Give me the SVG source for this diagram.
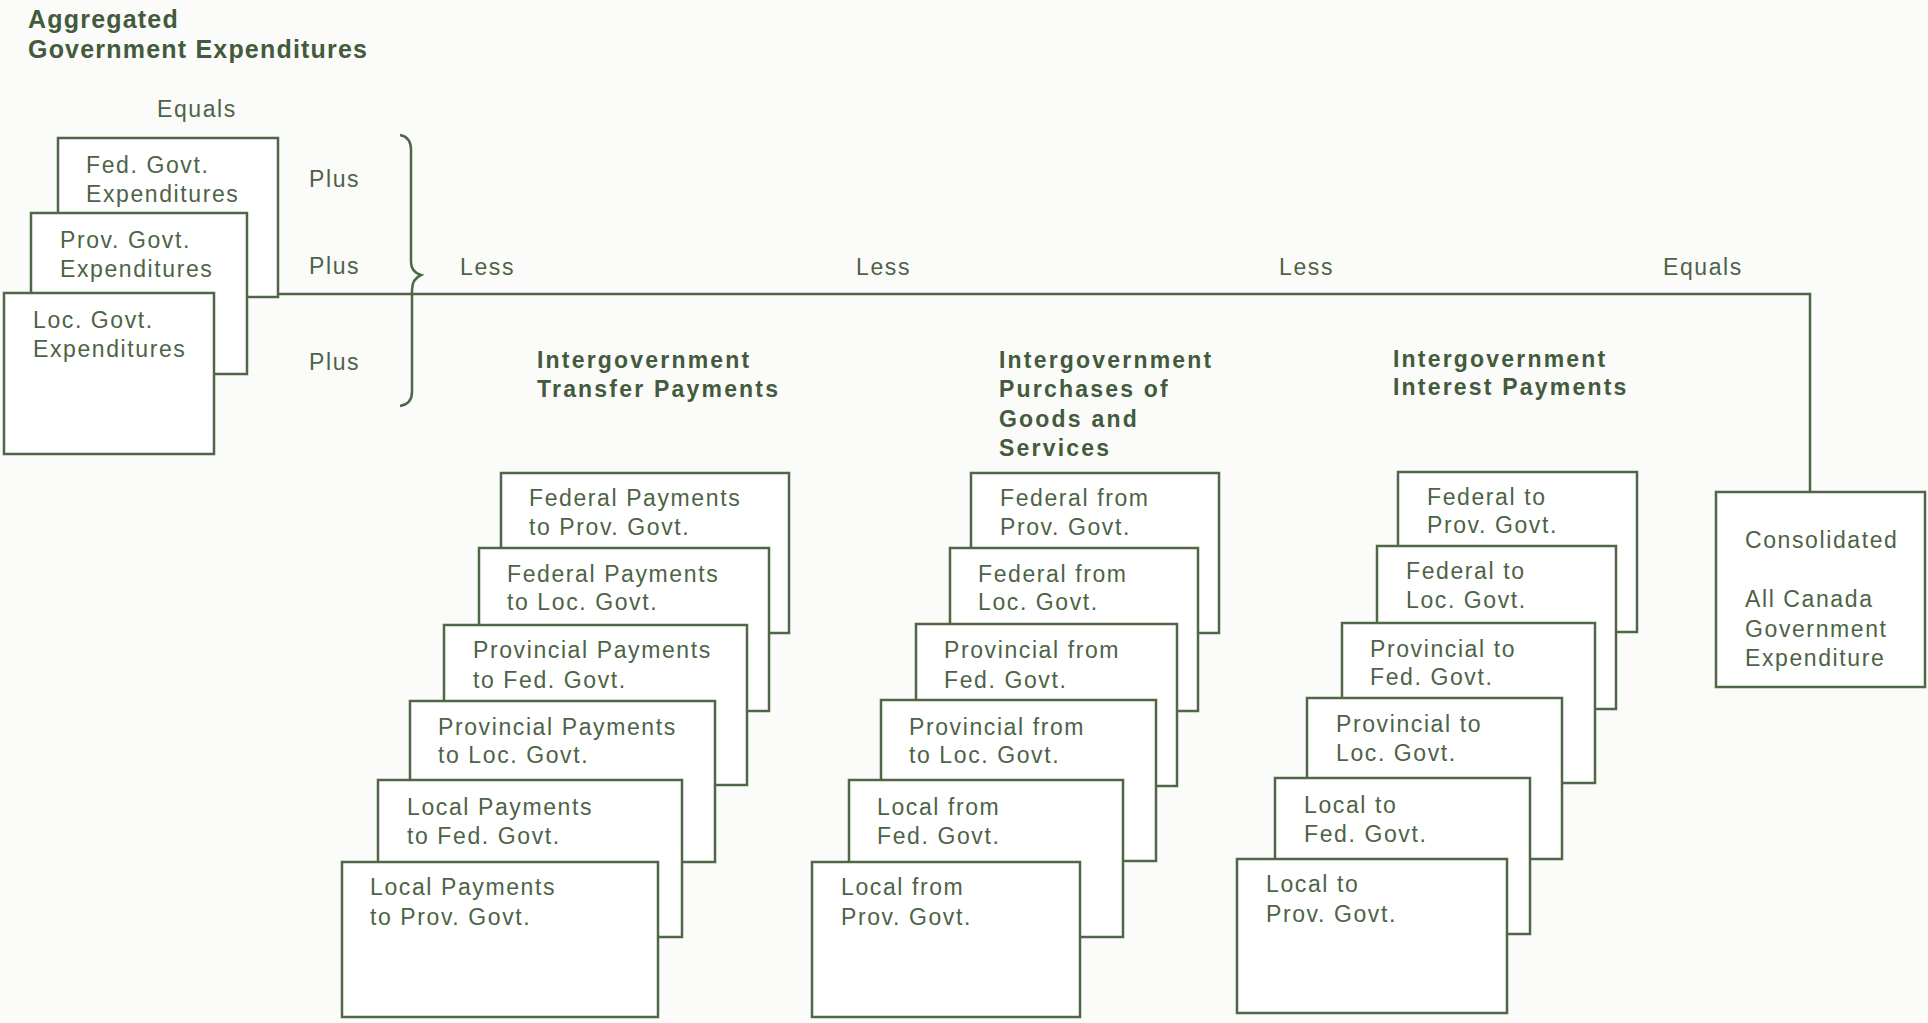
<svg xmlns="http://www.w3.org/2000/svg" width="1928" height="1023" viewBox="0 0 1928 1023">
<style>
.bg{fill:#fbfbf9}
.box{fill:#ffffff;stroke:#4f6647;stroke-width:2.5}
.ln{fill:none;stroke:#4f6647;stroke-width:2.5}
.t{font-family:"Liberation Sans",Arial,sans-serif;font-size:23px;letter-spacing:1.6px;fill:#4d6346}
.h{font-family:"Liberation Sans",Arial,sans-serif;font-size:23px;font-weight:bold;letter-spacing:2.2px;fill:#435a3c}
.title{font-family:"Liberation Sans",Arial,sans-serif;font-size:25px;font-weight:bold;letter-spacing:1.2px;fill:#435a3c}
</style>
<rect class="bg" x="0" y="0" width="1928" height="1023"/>

<text class="title" x="28" y="28">Aggregated</text>
<text class="title" x="28" y="58">Government Expenditures</text>

<g id="connectors">
<path class="ln" d="M278 294 H1810 V492"/>
<path class="ln" d="M400 135 Q411 137 411 150 V262 Q411 272 421 275 Q412 279 412 290 V392 Q412 404 400 406"/>
</g>

<g id="labels">
<text class="t" x="157" y="117">Equals</text>
<text class="t" x="309" y="187">Plus</text>
<text class="t" x="309" y="274">Plus</text>
<text class="t" x="309" y="370">Plus</text>
<text class="t" x="460" y="275">Less</text>
<text class="t" x="856" y="275">Less</text>
<text class="t" x="1279" y="275">Less</text>
<text class="t" x="1663" y="275">Equals</text>
</g>

<g id="fed-govt">
<rect class="box" x="58" y="138" width="220" height="159"/>
<text class="t" x="86" y="173">Fed. Govt.</text>
<text class="t" x="86" y="202">Expenditures</text>
</g>
<g id="prov-govt">
<rect class="box" x="31" y="213" width="216" height="161"/>
<text class="t" x="60" y="248">Prov. Govt.</text>
<text class="t" x="60" y="277">Expenditures</text>
</g>
<g id="loc-govt">
<rect class="box" x="4" y="293" width="210" height="161"/>
<text class="t" x="33" y="328">Loc. Govt.</text>
<text class="t" x="33" y="357">Expenditures</text>
</g>

<g id="hdr-transfer">
<text class="h" x="537" y="368">Intergovernment</text>
<text class="h" x="537" y="397">Transfer Payments</text>
</g>
<g id="hdr-purchases">
<text class="h" x="999" y="368">Intergovernment</text>
<text class="h" x="999" y="397">Purchases of</text>
<text class="h" x="999" y="427">Goods and</text>
<text class="h" x="999" y="456">Services</text>
</g>
<g id="hdr-interest">
<text class="h" x="1393" y="367">Intergovernment</text>
<text class="h" x="1393" y="395">Interest Payments</text>
</g>

<g id="tr1"><rect class="box" x="501" y="473" width="288" height="160"/><text class="t" x="529" y="506">Federal Payments</text><text class="t" x="529" y="535">to Prov. Govt.</text></g>
<g id="tr2"><rect class="box" x="479" y="548" width="290" height="163"/><text class="t" x="507" y="582">Federal Payments</text><text class="t" x="507" y="610">to Loc. Govt.</text></g>
<g id="tr3"><rect class="box" x="444" y="625" width="303" height="160"/><text class="t" x="473" y="658">Provincial Payments</text><text class="t" x="473" y="688">to Fed. Govt.</text></g>
<g id="tr4"><rect class="box" x="410" y="701" width="305" height="161"/><text class="t" x="438" y="735">Provincial Payments</text><text class="t" x="438" y="763">to Loc. Govt.</text></g>
<g id="tr5"><rect class="box" x="378" y="780" width="304" height="157"/><text class="t" x="407" y="815">Local Payments</text><text class="t" x="407" y="844">to Fed. Govt.</text></g>
<g id="tr6"><rect class="box" x="342" y="862" width="316" height="155"/><text class="t" x="370" y="895">Local Payments</text><text class="t" x="370" y="925">to Prov. Govt.</text></g>

<g id="pu1"><rect class="box" x="971" y="473" width="248" height="160"/><text class="t" x="1000" y="506">Federal from</text><text class="t" x="1000" y="535">Prov. Govt.</text></g>
<g id="pu2"><rect class="box" x="950" y="548" width="248" height="163"/><text class="t" x="978" y="582">Federal from</text><text class="t" x="978" y="610">Loc. Govt.</text></g>
<g id="pu3"><rect class="box" x="916" y="624" width="261" height="162"/><text class="t" x="944" y="658">Provincial from</text><text class="t" x="944" y="688">Fed. Govt.</text></g>
<g id="pu4"><rect class="box" x="881" y="700" width="275" height="161"/><text class="t" x="909" y="735">Provincial from</text><text class="t" x="909" y="763">to Loc. Govt.</text></g>
<g id="pu5"><rect class="box" x="849" y="780" width="274" height="157"/><text class="t" x="877" y="815">Local from</text><text class="t" x="877" y="844">Fed. Govt.</text></g>
<g id="pu6"><rect class="box" x="812" y="862" width="268" height="155"/><text class="t" x="841" y="895">Local from</text><text class="t" x="841" y="925">Prov. Govt.</text></g>

<g id="in1"><rect class="box" x="1398" y="472" width="239" height="160"/><text class="t" x="1427" y="505">Federal to</text><text class="t" x="1427" y="533">Prov. Govt.</text></g>
<g id="in2"><rect class="box" x="1377" y="546" width="239" height="163"/><text class="t" x="1406" y="579">Federal to</text><text class="t" x="1406" y="608">Loc. Govt.</text></g>
<g id="in3"><rect class="box" x="1342" y="623" width="253" height="160"/><text class="t" x="1370" y="657">Provincial to</text><text class="t" x="1370" y="685">Fed. Govt.</text></g>
<g id="in4"><rect class="box" x="1307" y="698" width="255" height="161"/><text class="t" x="1336" y="732">Provincial to</text><text class="t" x="1336" y="761">Loc. Govt.</text></g>
<g id="in5"><rect class="box" x="1275" y="778" width="255" height="156"/><text class="t" x="1304" y="813">Local to</text><text class="t" x="1304" y="842">Fed. Govt.</text></g>
<g id="in6"><rect class="box" x="1237" y="859" width="270" height="154"/><text class="t" x="1266" y="892">Local to</text><text class="t" x="1266" y="922">Prov. Govt.</text></g>

<g id="consolidated">
<rect class="box" x="1716" y="492" width="209" height="195"/>
<text class="t" x="1745" y="548">Consolidated</text>
<text class="t" x="1745" y="607">All Canada</text>
<text class="t" x="1745" y="637">Government</text>
<text class="t" x="1745" y="666">Expenditure</text>
</g>
</svg>
